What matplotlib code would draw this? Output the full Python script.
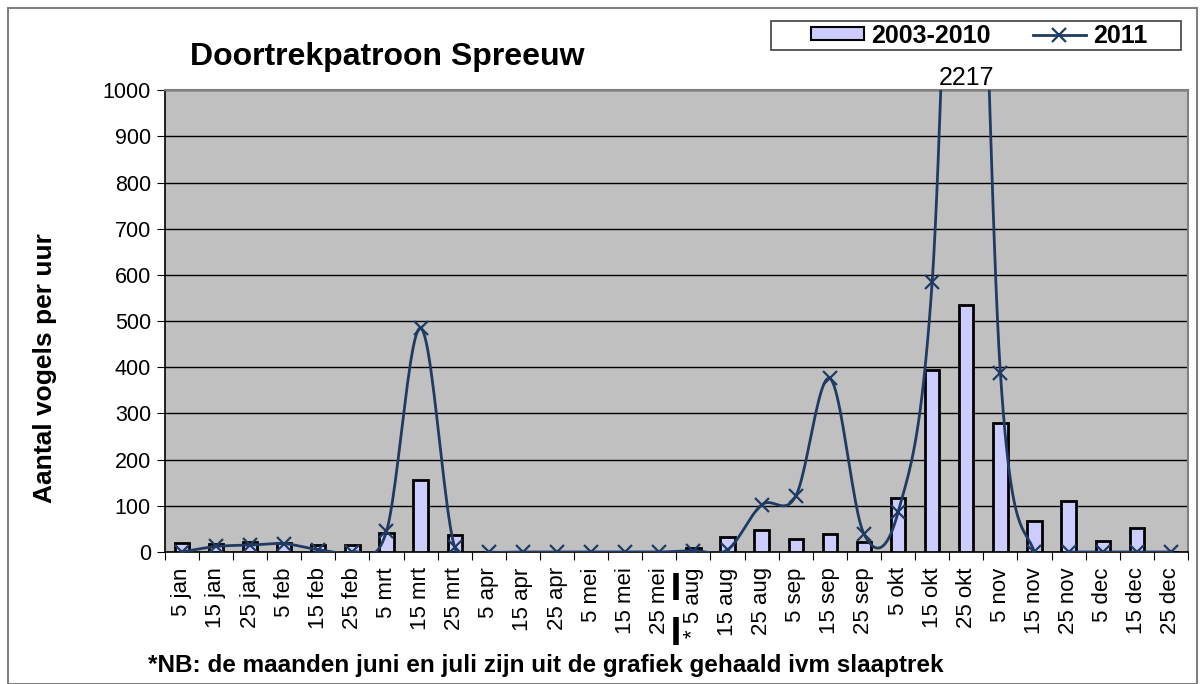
import numpy as np
import matplotlib
matplotlib.use("Agg")
import matplotlib.pyplot as plt
from matplotlib.lines import Line2D
from matplotlib.patches import Rectangle, Patch

plt.rcParams["font.family"] = ["Liberation Sans", "DejaVu Sans"]

CATEGORIES = [
    "5 jan", "15 jan", "25 jan", "5 feb", "15 feb", "25 feb",
    "5 mrt", "15 mrt", "25 mrt", "5 apr", "15 apr", "25 apr",
    "5 mei", "15 mei", "25 mei", "* 5 aug", "15 aug", "25 aug",
    "5 sep", "15 sep", "25 sep", "5 okt", "15 okt", "25 okt",
    "5 nov", "15 nov", "25 nov", "5 dec", "15 dec", "25 dec",
]
AVG_2003_2010 = [
    19, 17, 22, 20, 16, 15,
    41, 155, 37, 0, 0, 0,
    0, 0, 0, 8, 32, 48,
    28, 39, 22, 117, 395, 535,
    280, 67, 111, 24, 53, 0,
]
COUNT_2011 = [
    0, 12, 15, 18, 5, 0,
    45, 485, 10, 0, 0, 0,
    0, 0, 0, 3, 5, 102,
    121, 376, 39, 86, 585, 2217,
    388, 0, 0, 0, 0, 0,
]
PEAK_LABEL = "2217"

BAR_COLOR = "#CCCCFF"
LINE_COLOR = "#1F3B64"


def smooth(x, y, steps=24):
    # Excel-like smoothed line (Bezier through every point)
    x = np.asarray(x, float)
    y = np.asarray(y, float)
    px = np.concatenate([[x[0]], x, [x[-1]]])
    py = np.concatenate([[y[0]], y, [y[-1]]])
    xs, ys = [], []
    t = np.linspace(0, 1, steps)
    for i in range(1, len(px) - 2):
        p0 = np.array([px[i], py[i]])
        p3 = np.array([px[i + 1], py[i + 1]])
        c1 = p0 + (np.array([px[i + 1], py[i + 1]]) - np.array([px[i - 1], py[i - 1]])) / 6
        c2 = p3 - (np.array([px[i + 2], py[i + 2]]) - np.array([px[i], py[i]])) / 6
        b = (((1 - t) ** 3)[:, None] * p0 + (3 * (1 - t) ** 2 * t)[:, None] * c1
             + (3 * (1 - t) * t ** 2)[:, None] * c2 + (t ** 3)[:, None] * p3)
        xs.extend(b[:, 0])
        ys.extend(b[:, 1])
    return np.array(xs), np.array(ys)


fig = plt.figure(figsize=(12.03, 6.84), dpi=100)
ax = fig.add_axes([0.137, 0.193, 0.8505, 0.675])
ax.set_facecolor("#C0C0C0")

x = np.arange(len(CATEGORIES))
ax.bar(x, AVG_2003_2010, width=0.42, color=BAR_COLOR, edgecolor="black",
       linewidth=2, zorder=3)

sx, sy = smooth(x, COUNT_2011)
ax.plot(sx, sy, color=LINE_COLOR, linewidth=2, zorder=4)
ax.plot(x, COUNT_2011, linestyle="none", marker="x", markersize=10,
        markeredgewidth=1.6, color=LINE_COLOR, zorder=5)

ax.set_xlim(-0.5, len(CATEGORIES) - 0.5)
ax.set_ylim(0, 1000)
ax.set_yticks(np.arange(0, 1001, 100))
ax.yaxis.grid(True, color="black", linewidth=1)
ax.set_axisbelow(True)
ax.tick_params(axis="y", labelsize=15.5, length=6, direction="out", pad=4)

ax.set_xticks(np.arange(-0.5, len(CATEGORIES), 1))
ax.set_xticklabels([])
ax.tick_params(axis="x", which="major", length=6, direction="out")
ax.set_xticks(x, minor=True)
ax.set_xticklabels(CATEGORIES, minor=True, rotation=90, fontsize=16)
ax.tick_params(axis="x", which="minor", length=0, pad=11)

for side in ("top", "right"):
    ax.spines[side].set_color("#808080")
    ax.spines[side].set_linewidth(1.5)
ax.spines["left"].set_linewidth(1.2)
ax.spines["bottom"].set_linewidth(1.2)

peak_idx = int(np.argmax(COUNT_2011))
ax.text(peak_idx, 1000, PEAK_LABEL, ha="center", va="bottom", fontsize=18,
        clip_on=False)

# break marker between mei and aug
trans = ax.get_xaxis_transform()
gap = 14.5
ax.plot([gap, gap], [-0.045, -0.104], color="black", linewidth=4,
        transform=trans, clip_on=False, solid_capstyle="butt")
ax.plot([gap, gap], [-0.141, -0.201], color="black", linewidth=4,
        transform=trans, clip_on=False, solid_capstyle="butt")

fig.text(0.037, 0.462, "Aantal vogels per uur", rotation=90, ha="center",
         va="center", fontsize=19, fontweight="bold")
fig.text(0.158, 0.917, "Doortrekpatroon Spreeuw", ha="left", va="center",
         fontsize=23, fontweight="bold")
fig.text(0.123, 0.027,
         "*NB: de maanden juni en juli zijn uit de grafiek gehaald ivm slaaptrek",
         ha="left", va="center", fontsize=17.5, fontweight="bold")

handles = [
    Patch(facecolor=BAR_COLOR, edgecolor="black", linewidth=1.5),
    Line2D([], [], color=LINE_COLOR, linewidth=2, marker="x", markersize=10,
           markeredgewidth=1.6),
]
leg = fig.legend(handles, ["2003-2010", "2011"], loc="center",
                 bbox_to_anchor=(0.814, 0.948), ncol=2, frameon=False,
                 prop={"size": 18, "weight": "bold"},
                 handlelength=2.1, columnspacing=1.7, borderpad=0,
                 handletextpad=0.3, handleheight=0.45)

# legend box
fig.patches.append(Rectangle((771 / 1203, 1 - 50 / 684), 410 / 1203, 29 / 684,
                             transform=fig.transFigure, fill=False,
                             edgecolor="#404040", linewidth=1.2))
# outer chart border
fig.patches.append(Rectangle((8 / 1203, 0), 1189 / 1203, 676 / 684,
                             transform=fig.transFigure, fill=False,
                             edgecolor="#808080", linewidth=1.5))

fig.savefig("out.png", dpi=100)
